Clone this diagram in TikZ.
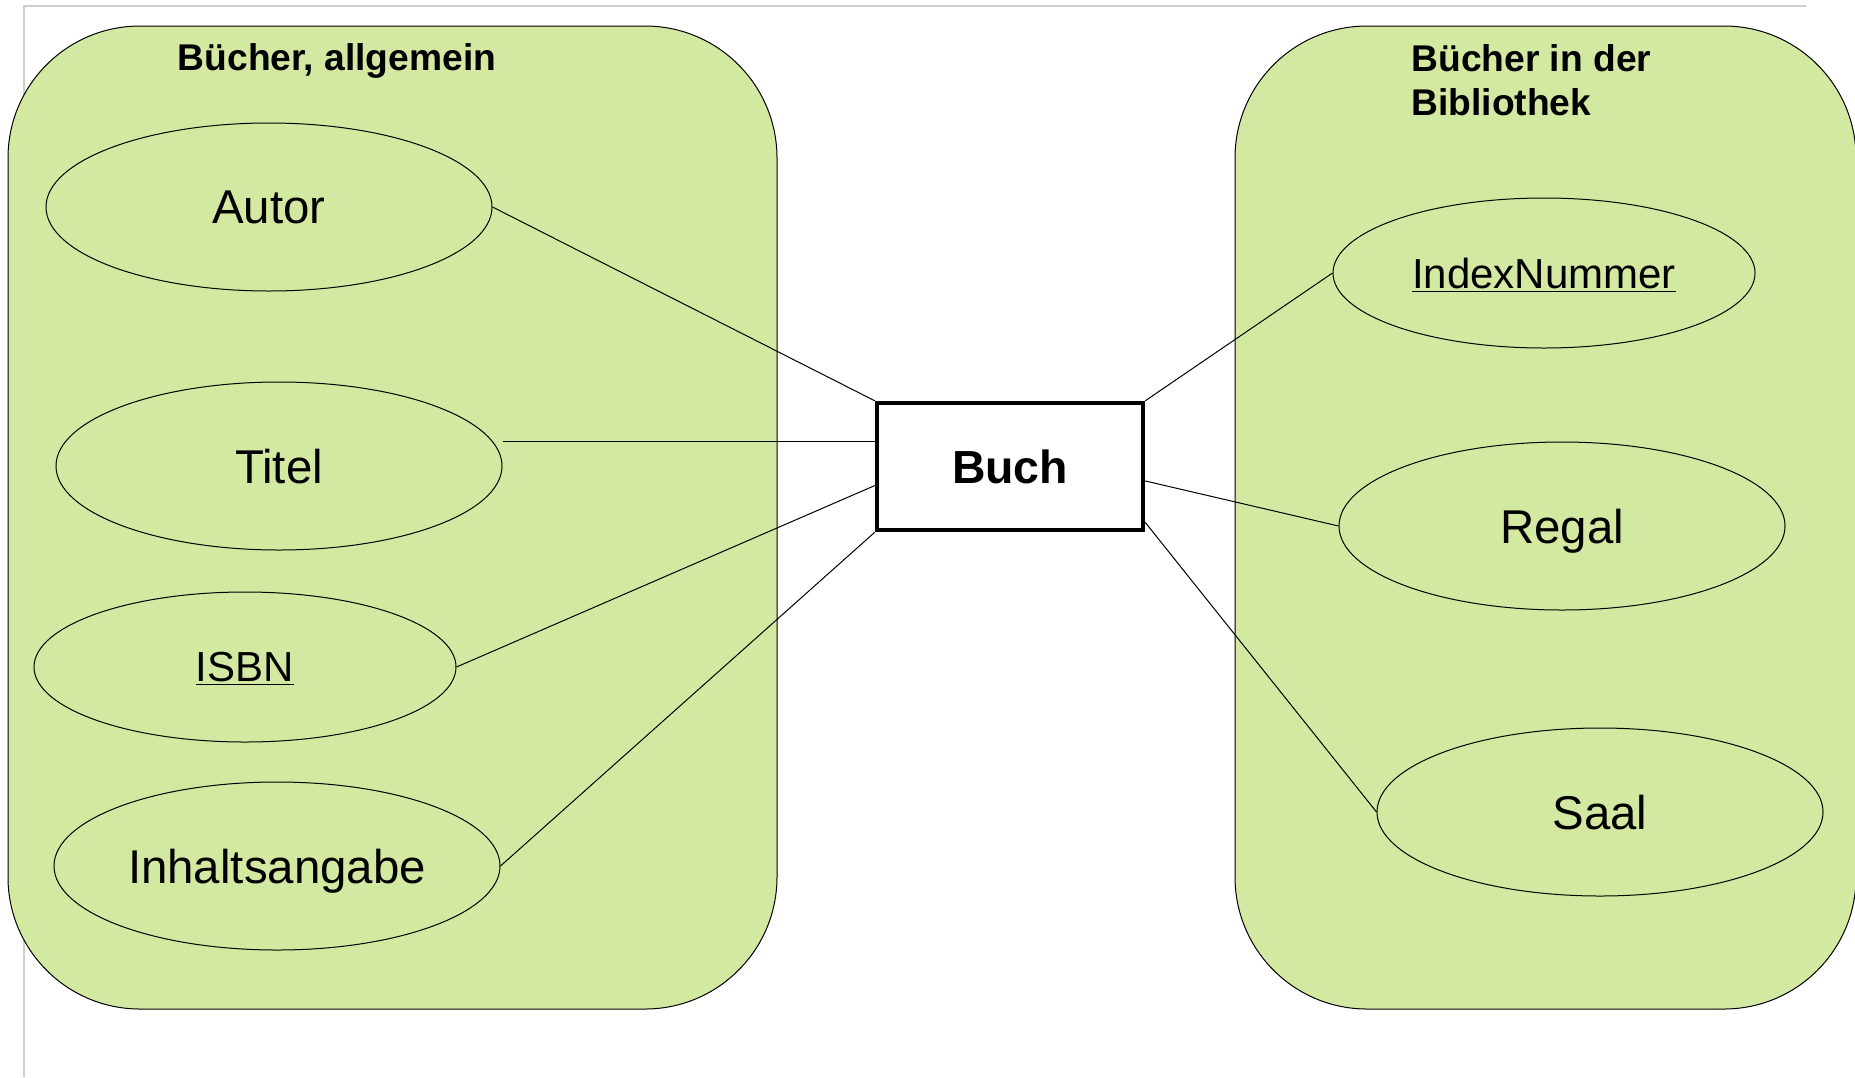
\documentclass[tikz,border=0pt]{standalone}
\usepackage{fontspec}
\setmainfont{Liberation Sans}
\usetikzlibrary{shapes.geometric,calc}

\definecolor{groupgreen}{RGB}{211,232,160}
\definecolor{framegray}{RGB}{206,206,206}

\begin{document}
\begin{tikzpicture}[x=0.5pt,y=-0.5pt,
		attrnode/.style={ellipse,draw,line width=0.5pt,inner sep=0pt,text depth=0pt,minimum width=223pt,minimum height=84pt,font=\fontsize{23.7}{28}\selectfont},
		keynode/.style={attrnode,minimum width=211pt,minimum height=75pt,font=\fontsize{21}{25}\selectfont},
		entitynode/.style={rectangle,draw,line width=2.2pt,fill=white,minimum width=133pt,minimum height=63.5pt,font=\fontsize{23.2}{28}\selectfont\bfseries},
		groupbox/.style={draw,line width=0.5pt,fill=groupgreen,rounded corners=66pt},
		grouptitle/.style={inner sep=0pt,align=left,font=\fontsize{18.6}{21.9}\selectfont\bfseries}]
		\useasboundingbox (0,0) rectangle (1855,1077);

		\draw[framegray,line width=1.2pt] (24,1077) -- (24,6) -- (1806,6);
		\draw[groupbox] (8,26) rectangle (777,1009);
		\draw[groupbox] (1235,26) rectangle (1856,1009);

		\node[grouptitle]						(tleft)		at (337,61)		{Bücher, allgemein};
		\node[grouptitle,anchor=west]			(tright)	at (1411,80)	{Bücher in der\\Bibliothek};

		\node[attrnode]							(autor)		at (269,207)	{Autor};
		\node[attrnode]							(titel)		at (279,466)	{Titel};
		\node[keynode]							(isbn)		at (245,667)	{\underline{ISBN}};
		\node[attrnode]							(inhalt)	at (277,866)	{Inhaltsangabe};
		\node[keynode]							(index)		at (1544,273)	{\underline{IndexNummer}};
		\node[attrnode]							(regal)		at (1562,526)	{Regal};
		\node[attrnode]							(saal)		at (1600,812)	{Saal};
		\node[entitynode]						(buch)		at (1010,466.5)	{Buch};

		\coordinate (bt) at ($(buch.north west)!0.31!(buch.south west)$);
		\coordinate (bi) at ($(buch.north west)!0.645!(buch.south west)$);
		\coordinate (br) at ($(buch.north east)!0.61!(buch.south east)$);
		\coordinate (bs) at ($(buch.north east)!0.925!(buch.south east)$);

		\draw[line width=0.5pt] (autor.east) -- (buch.north west);
		\draw[line width=0.5pt] (titel.east |- bt) -- (bt);
		\draw[line width=0.5pt] (isbn.east) -- (bi);
		\draw[line width=0.5pt] (inhalt.east) -- (buch.south west);
		\draw[line width=0.5pt] (index.west) -- (buch.north east);
		\draw[line width=0.5pt] (regal.west) -- (br);
		\draw[line width=0.5pt] (saal.west) -- (bs);
	\end{tikzpicture}
\end{document}
